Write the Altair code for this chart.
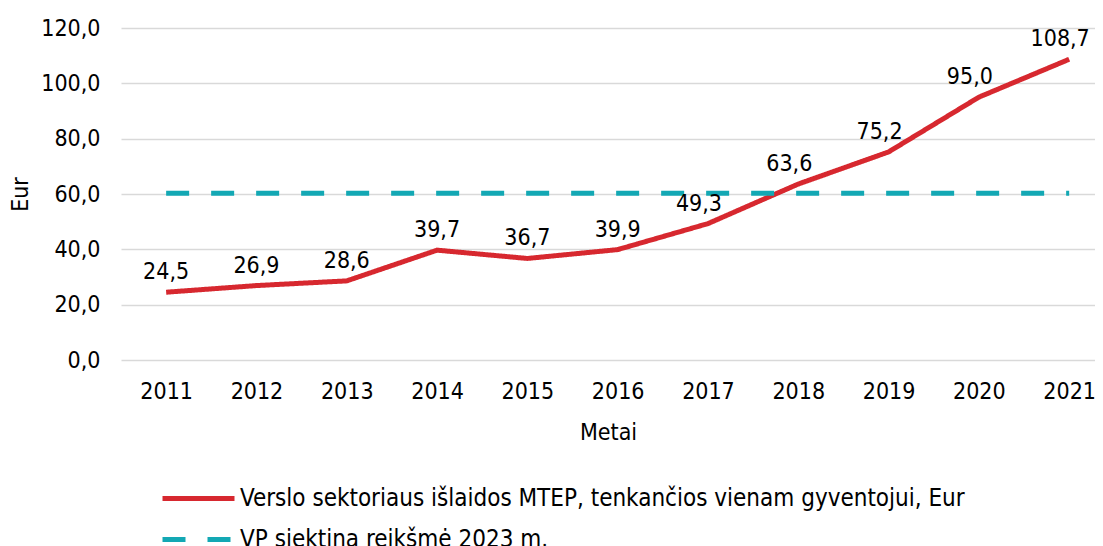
import altair as alt
import pandas as pd

years = [2011, 2012, 2013, 2014, 2015, 2016, 2017, 2018, 2019, 2020, 2021]
values = [24.5, 26.9, 28.6, 39.7, 36.7, 39.9, 49.3, 63.6, 75.2, 95.0, 108.7]
target_value = 60.3
series_names = [
    "Verslo sektoriaus išlaidos MTEP, tenkančios vienam gyventojui, Eur",
    "VP siektina reikšmė 2023 m.",
]
series_colors = ["#D7282F", "#13A8B4"]
y_ticks = [0, 20, 40, 60, 80, 100, 120]

FONT = "Liberation Sans Narrow, DejaVu Sans Condensed, sans-serif"
FS = 23

main = pd.DataFrame({
    "year": years,
    "value": values,
    "series": series_names[0],
})
main["label"] = [f"{v:.1f}".replace(".", ",") for v in values]
main["late"] = [y >= 2017 for y in years]

target = pd.DataFrame({
    "year": years,
    "value": [target_value] * len(years),
    "series": series_names[1],
})

df = pd.concat([main, target], ignore_index=True)

x_enc = alt.X(
    "year:Q",
    scale=alt.Scale(domain=[2010.5, 2021.286], nice=False, zero=False),
    axis=alt.Axis(
        values=years, format="d", title="Metai", grid=False, domain=False,
        ticks=False, labelPadding=20, labelFlush=False, titlePadding=18,
    ),
)
y_enc = alt.Y(
    "value:Q",
    scale=alt.Scale(domain=[0, 120], nice=False),
    axis=alt.Axis(
        values=y_ticks, labelExpr="replace(format(datum.value, '.1f'), '.', ',')",
        title="Eur", domain=False, ticks=False, labelPadding=21,
        gridColor="#d9d9d9", gridWidth=1.5, titlePadding=8,
    ),
)

legend = alt.Legend(
    orient="none", legendX=63, legendY=456, title=None,
    symbolType="M-3,0H3", symbolSize=576, symbolStrokeWidth=5,
    rowPadding=14, labelOffset=27, labelLimit=1000,
    labelFont=FONT, labelFontSize=24, labelColor="#000000", padding=0,
)

lines = alt.Chart(df).mark_line(strokeWidth=5).encode(
    x=x_enc,
    y=y_enc,
    color=alt.Color(
        "series:N",
        scale=alt.Scale(domain=series_names, range=series_colors),
        legend=legend,
    ),
    strokeDash=alt.StrokeDash(
        "series:N",
        scale=alt.Scale(domain=series_names, range=[[1, 0], [23, 22]]),
        legend=legend,
    ),
)

early_labels = alt.Chart(main).transform_filter("!datum.late").mark_text(
    font=FONT, fontSize=FS, dy=-20, baseline="middle", color="#000000"
).encode(x="year:Q", y="value:Q", text="label:N")

late_labels = alt.Chart(main).transform_filter("datum.late").mark_text(
    font=FONT, fontSize=FS, dy=-20, dx=-9, baseline="middle", color="#000000"
).encode(x="year:Q", y="value:Q", text="label:N")

chart = alt.layer(lines, early_labels, late_labels).properties(
    width=974,
    height=332,
    autosize=alt.AutoSizeParams(type="none"),
    padding={"left": 113, "top": 20, "right": 0, "bottom": 186},
).configure_view(stroke=None).configure_axis(
    labelFont=FONT, labelFontSize=FS, labelColor="#000000",
    titleFont=FONT, titleFontSize=FS, titleFontWeight="normal", titleColor="#000000",
)

chart.save("out.html", embed_options={"renderer": "svg", "actions": False})
